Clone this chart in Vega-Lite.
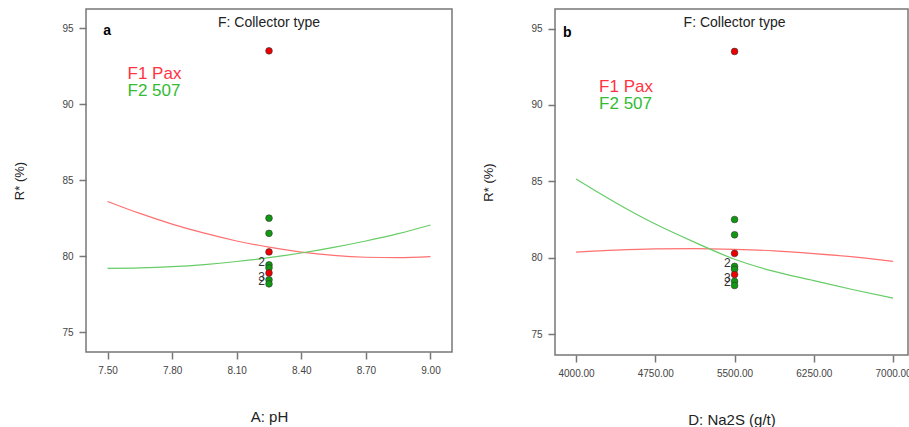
{
  "$schema": "https://vega.github.io/schema/vega-lite/v6.json",
  "padding": {"left": 13, "top": 8, "right": 0, "bottom": 0},
  "spacing": 29,
  "background": "white",
  "config": {
    "font": "Liberation Sans",
    "view": {"stroke": "#777", "strokeWidth": 1.5},
    "axis": {"grid": false, "domain": false, "tickColor": "#777", "tickSize": 7, "tickWidth": 1.5, "labelFontSize": 10, "labelColor": "#444", "titleFontSize": 15, "titleFontWeight": "normal", "titleColor": "#222", "labelPadding": 6},
    "axisY": {"titlePadding": 35, "titleFontSize": 13},
    "axisX": {"titlePadding": 34}
  },
  "datasets": {
    "points": [
      {"pH": 8.25, "Na2S": 5500, "R": 82.5, "collector": "F2 507"},
      {"pH": 8.25, "Na2S": 5500, "R": 81.5, "collector": "F2 507"},
      {"pH": 8.25, "Na2S": 5500, "R": 79.43, "collector": "F2 507", "count": "2"},
      {"pH": 8.25, "Na2S": 5500, "R": 79.24, "collector": "F2 507"},
      {"pH": 8.25, "Na2S": 5500, "R": 78.45, "collector": "F2 507", "count": "3"},
      {"pH": 8.25, "Na2S": 5500, "R": 78.18, "collector": "F2 507", "count": "2"},
      {"pH": 8.25, "Na2S": 5500, "R": 93.5, "collector": "F1 Pax"},
      {"pH": 8.25, "Na2S": 5500, "R": 80.28, "collector": "F1 Pax"},
      {"pH": 8.25, "Na2S": 5500, "R": 78.9, "collector": "F1 Pax"}
    ],
    "curveA": [
      {"pH": 7.50, "R": 83.6, "collector": "F1 Pax"},
      {"pH": 7.65, "R": 82.81, "collector": "F1 Pax"},
      {"pH": 7.80, "R": 82.11, "collector": "F1 Pax"},
      {"pH": 7.95, "R": 81.51, "collector": "F1 Pax"},
      {"pH": 8.10, "R": 81.0, "collector": "F1 Pax"},
      {"pH": 8.25, "R": 80.59, "collector": "F1 Pax"},
      {"pH": 8.40, "R": 80.27, "collector": "F1 Pax"},
      {"pH": 8.55, "R": 80.05, "collector": "F1 Pax"},
      {"pH": 8.70, "R": 79.93, "collector": "F1 Pax"},
      {"pH": 8.85, "R": 79.9, "collector": "F1 Pax"},
      {"pH": 9.00, "R": 79.97, "collector": "F1 Pax"},
      {"pH": 7.50, "R": 79.2, "collector": "F2 507"},
      {"pH": 7.65, "R": 79.23, "collector": "F2 507"},
      {"pH": 7.80, "R": 79.31, "collector": "F2 507"},
      {"pH": 7.95, "R": 79.45, "collector": "F2 507"},
      {"pH": 8.10, "R": 79.65, "collector": "F2 507"},
      {"pH": 8.25, "R": 79.9, "collector": "F2 507"},
      {"pH": 8.40, "R": 80.21, "collector": "F2 507"},
      {"pH": 8.55, "R": 80.58, "collector": "F2 507"},
      {"pH": 8.70, "R": 81.0, "collector": "F2 507"},
      {"pH": 8.85, "R": 81.48, "collector": "F2 507"},
      {"pH": 9.00, "R": 82.05, "collector": "F2 507"}
    ],
    "curveB": [
      {"Na2S": 4000, "R": 80.37, "collector": "F1 Pax"},
      {"Na2S": 4375, "R": 80.5, "collector": "F1 Pax"},
      {"Na2S": 4750, "R": 80.58, "collector": "F1 Pax"},
      {"Na2S": 5125, "R": 80.6, "collector": "F1 Pax"},
      {"Na2S": 5500, "R": 80.55, "collector": "F1 Pax"},
      {"Na2S": 5875, "R": 80.45, "collector": "F1 Pax"},
      {"Na2S": 6250, "R": 80.27, "collector": "F1 Pax"},
      {"Na2S": 6625, "R": 80.05, "collector": "F1 Pax"},
      {"Na2S": 7000, "R": 79.76, "collector": "F1 Pax"},
      {"Na2S": 4000, "R": 85.15, "collector": "F2 507"},
      {"Na2S": 4375, "R": 83.6, "collector": "F2 507"},
      {"Na2S": 4750, "R": 82.2, "collector": "F2 507"},
      {"Na2S": 5125, "R": 81.0, "collector": "F2 507"},
      {"Na2S": 5500, "R": 79.9, "collector": "F2 507"},
      {"Na2S": 5875, "R": 79.1, "collector": "F2 507"},
      {"Na2S": 6250, "R": 78.5, "collector": "F2 507"},
      {"Na2S": 6625, "R": 77.9, "collector": "F2 507"},
      {"Na2S": 7000, "R": 77.35, "collector": "F2 507"}
    ]
  },
  "hconcat": [
    {
      "width": 366,
      "height": 343,
      "layer": [
        {
          "data": {"name": "curveA"},
          "mark": {"type": "line", "strokeWidth": 1.2, "interpolate": "monotone"},
          "encoding": {
            "x": {"field": "pH", "type": "quantitative", "title": "A: pH", "scale": {"domain": [7.40, 9.10], "nice": false, "zero": false}, "axis": {"values": [7.5, 7.8, 8.1, 8.4, 8.7, 9.0], "format": ".2f"}},
            "y": {"field": "R", "type": "quantitative", "title": "R* (%)", "scale": {"domain": [73.7, 96.25], "nice": false, "zero": false}, "axis": {"values": [75, 80, 85, 90, 95]}},
            "stroke": {"field": "collector", "type": "nominal", "scale": {"domain": ["F1 Pax", "F2 507"], "range": ["#ff7070", "#66cc66"]}, "legend": null}
          }
        },
        {
          "data": {"name": "points"},
          "mark": {"type": "point", "filled": true, "size": 45, "stroke": "#333", "strokeWidth": 0.6, "opacity": 1},
          "encoding": {
            "x": {"field": "pH", "type": "quantitative"},
            "y": {"field": "R", "type": "quantitative"},
            "fill": {"field": "collector", "type": "nominal", "scale": {"domain": ["F1 Pax", "F2 507"], "range": ["#ee0000", "#119911"]}, "legend": null}
          }
        },
        {
          "data": {"name": "points"},
          "transform": [{"filter": "datum.count != null"}],
          "mark": {"type": "text", "align": "right", "baseline": "middle", "dx": -4, "dy": -3, "fontSize": 12, "color": "#333"},
          "encoding": {
            "x": {"field": "pH", "type": "quantitative"},
            "y": {"field": "R", "type": "quantitative"},
            "text": {"field": "count"}
          }
        },
        {
          "data": {"values": [{}]},
          "mark": {"type": "text", "text": "F: Collector type", "fontSize": 14, "color": "#222", "align": "center", "baseline": "middle"},
          "encoding": {"x": {"datum": 8.25}, "y": {"datum": 95.3}}
        },
        {
          "data": {"values": [{}]},
          "mark": {"type": "text", "text": "a", "fontSize": 14, "fontWeight": "bold", "color": "#000", "align": "left", "baseline": "middle"},
          "encoding": {"x": {"datum": 7.48}, "y": {"datum": 94.8}}
        },
        {
          "data": {"values": [{}]},
          "mark": {"type": "text", "text": "F1 Pax", "fontSize": 17, "color": "#ff3344", "align": "left", "baseline": "middle"},
          "encoding": {"x": {"datum": 7.593}, "y": {"datum": 92.0}}
        },
        {
          "data": {"values": [{}]},
          "mark": {"type": "text", "text": "F2 507", "fontSize": 17, "color": "#33bb33", "align": "left", "baseline": "middle"},
          "encoding": {"x": {"datum": 7.593}, "y": {"datum": 90.85}}
        }
      ]
    },
    {
      "width": 353,
      "height": 346,
      "layer": [
        {
          "data": {"name": "curveB"},
          "mark": {"type": "line", "strokeWidth": 1.2, "interpolate": "monotone"},
          "encoding": {
            "x": {"field": "Na2S", "type": "quantitative", "title": "D: Na2S (g/t)", "scale": {"domain": [3801, 7141], "nice": false, "zero": false}, "axis": {"values": [4000, 4750, 5500, 6250, 7000], "format": ".2f"}},
            "y": {"field": "R", "type": "quantitative", "title": "R* (%)", "scale": {"domain": [73.63, 96.28], "nice": false, "zero": false}, "axis": {"values": [75, 80, 85, 90, 95]}},
            "stroke": {"field": "collector", "type": "nominal", "scale": {"domain": ["F1 Pax", "F2 507"], "range": ["#ff7070", "#66cc66"]}, "legend": null}
          }
        },
        {
          "data": {"name": "points"},
          "mark": {"type": "point", "filled": true, "size": 45, "stroke": "#333", "strokeWidth": 0.6, "opacity": 1},
          "encoding": {
            "x": {"field": "Na2S", "type": "quantitative"},
            "y": {"field": "R", "type": "quantitative"},
            "fill": {"field": "collector", "type": "nominal", "scale": {"domain": ["F1 Pax", "F2 507"], "range": ["#ee0000", "#119911"]}, "legend": null}
          }
        },
        {
          "data": {"name": "points"},
          "transform": [{"filter": "datum.count != null"}],
          "mark": {"type": "text", "align": "right", "baseline": "middle", "dx": -4, "dy": -3, "fontSize": 12, "color": "#333"},
          "encoding": {
            "x": {"field": "Na2S", "type": "quantitative"},
            "y": {"field": "R", "type": "quantitative"},
            "text": {"field": "count"}
          }
        },
        {
          "data": {"values": [{}]},
          "mark": {"type": "text", "text": "F: Collector type", "fontSize": 14, "color": "#222", "align": "center", "baseline": "middle"},
          "encoding": {"x": {"datum": 5500}, "y": {"datum": 95.36}}
        },
        {
          "data": {"values": [{}]},
          "mark": {"type": "text", "text": "b", "fontSize": 14, "fontWeight": "bold", "color": "#000", "align": "left", "baseline": "middle"},
          "encoding": {"x": {"datum": 3877}, "y": {"datum": 94.7}}
        },
        {
          "data": {"values": [{}]},
          "mark": {"type": "text", "text": "F1 Pax", "fontSize": 17, "color": "#ff3344", "align": "left", "baseline": "middle"},
          "encoding": {"x": {"datum": 4218}, "y": {"datum": 91.17}}
        },
        {
          "data": {"values": [{}]},
          "mark": {"type": "text", "text": "F2 507", "fontSize": 17, "color": "#33bb33", "align": "left", "baseline": "middle"},
          "encoding": {"x": {"datum": 4218}, "y": {"datum": 90.04}}
        }
      ]
    }
  ]
}
